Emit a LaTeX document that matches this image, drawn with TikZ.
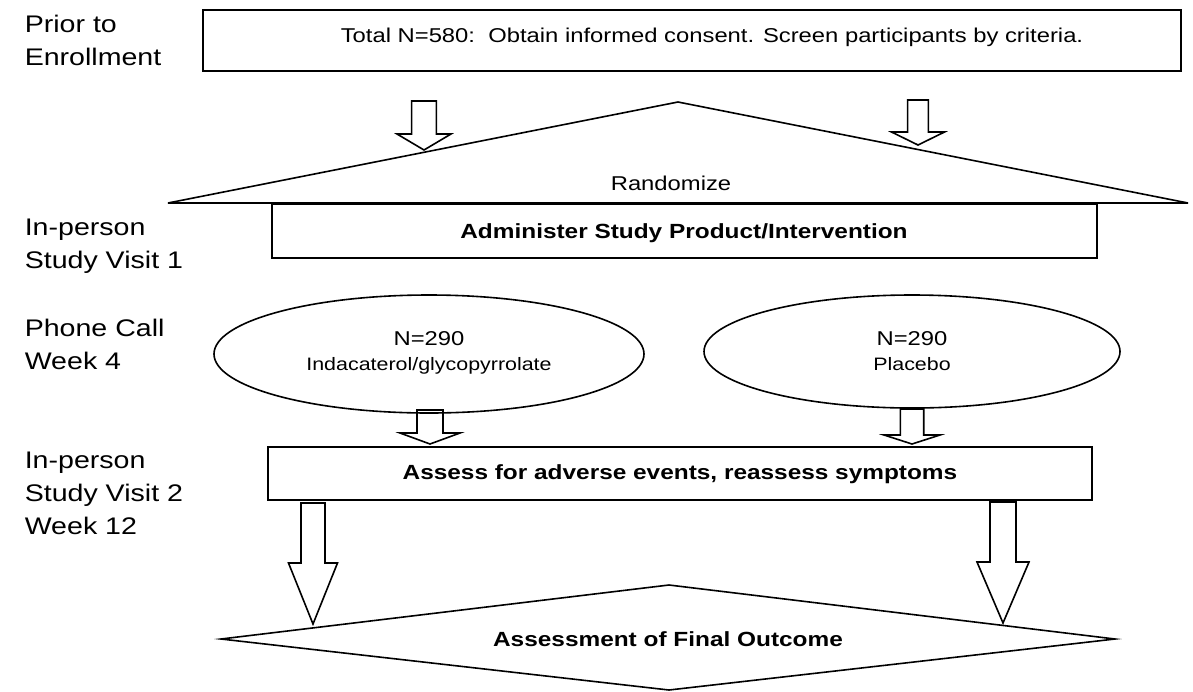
\documentclass[tikz,border=0pt]{standalone}
\usepackage{fontspec}
\setmainfont[FakeStretch=1.19]{Liberation Sans}
\usetikzlibrary{shapes.geometric}
\tikzset{
  lbl/.style={anchor=base west, inner sep=0pt, font=\fontsize{24}{33}\selectfont},
  boxx/.style={draw, rectangle, inner sep=0pt},
  txt/.style={anchor=base, inner sep=0pt, font=\fontsize{20}{24}\selectfont},
  btxt/.style={anchor=base, inner sep=0pt, font=\fontsize{20.5}{24}\selectfont\bfseries},
  stxt/.style={anchor=base, inner sep=0pt, font=\fontsize{18}{22}\selectfont},
  ell/.style={draw, ellipse, inner sep=0pt},
  barrow/.style={draw, line width=1.6pt, line join=miter}
}
% block arrow: x, ytop, yshaftend, ytip, shaft half width, head half width
\newcommand{\blockarrow}[6]{%
  \draw[barrow] ({#1-#5},#2) -- ({#1+#5},#2) -- ({#1+#5},#3) -- ({#1+#6},#3) -- (#1,#4)
    -- ({#1-#6},#3) -- ({#1-#5},#3) -- cycle;}
\begin{document}
\begin{tikzpicture}[x=1pt,y=-1pt,line width=1.6pt]
\useasboundingbox (0,0) rectangle (1193,691);
% left labels
\node[lbl] (l1a) at (24,32) {Prior to};
\node[lbl] (l1b) at (24,65) {Enrollment};
\node[lbl] (l2a) at (24,235) {In-person};
\node[lbl] (l2b) at (24,268) {Study Visit 1};
\node[lbl] (l3a) at (24,336) {Phone Call};
\node[lbl] (l3b) at (24,369) {Week 4};
\node[lbl] (l4a) at (24,468) {In-person};
\node[lbl] (l4b) at (24,501) {Study Visit 2};
\node[lbl] (l4c) at (24,534) {Week 12};
% top box
\node[boxx, minimum width=978pt, minimum height=61pt] (consent) at (692,40.5) {};
\node[txt] (consentT) at (712,42) {Total N=580:\ \ Obtain informed consent. Screen\ participants by criteria.};
% top arrows
\blockarrow{424}{101}{134}{150}{12.4}{27}
\blockarrow{918}{100}{132}{145}{10.4}{26.5}
% triangle
\coordinate (tL) at (168,203);
\coordinate (tA) at (678,102);
\coordinate (tR) at (1188,203);
\draw (tL) -- (tA) -- (tR) -- cycle;
\node[txt] (rand) at (671,190) {Randomize};
% administer box
\node[boxx, minimum width=825pt, minimum height=54pt] (admin) at (684.5,231) {};
\node[btxt] (adminT) at (684,238) {Administer Study Product/Intervention};
% ellipses
\node[ell, minimum width=430pt, minimum height=118pt] (e1) at (429,354) {};
\node[txt] (e1a) at (429,345) {N=290};
\node[stxt] (e1b) at (429,370) {Indacaterol/glycopyrrolate};
\node[ell, minimum width=416pt, minimum height=113pt] (e2) at (912,351.5) {};
\node[txt] (e2a) at (912,345) {N=290};
\node[stxt] (e2b) at (912,370) {Placebo};
% small arrows
\blockarrow{430}{410}{433}{444}{13}{30}
\blockarrow{912}{409}{435}{444}{11.7}{28}
% assess box
\node[boxx, minimum width=824pt, minimum height=53pt] (assess) at (680,473.5) {};
\node[btxt] (assessT) at (680,479) {Assess for adverse events, reassess symptoms};
% big arrows
\blockarrow{313}{503}{563}{624}{12}{24.5}
\blockarrow{1003}{502}{562}{623}{13}{26}
% diamond
\coordinate (dL) at (221,639);
\coordinate (dT) at (669,585);
\coordinate (dR) at (1115,639);
\coordinate (dB) at (669,690);
\draw (dL) -- (dT) -- (dR) -- (dB) -- cycle;
\node[btxt] (final) at (668,646) {Assessment of Final Outcome};
\end{tikzpicture}
\end{document}
